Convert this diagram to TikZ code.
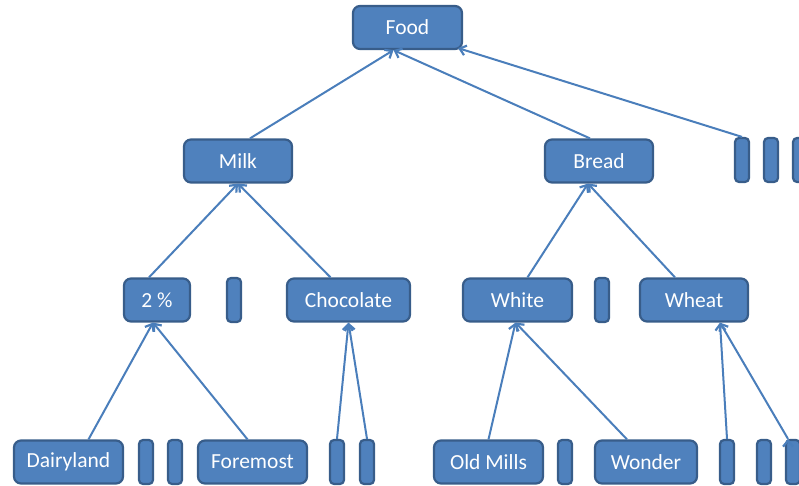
\documentclass[tikz,border=0pt]{standalone}
\usepackage{fontspec}
\setmainfont{Carlito}
\usetikzlibrary{arrows.meta}
\definecolor{cB}{RGB}{79,129,189}
\definecolor{cD}{RGB}{56,93,138}
\definecolor{cL}{RGB}{74,126,187}

\begin{document}
\begin{tikzpicture}[x=1pt, y=-1pt,
    box/.style={rectangle, rounded corners=7pt, fill=cB, draw=cD, line width=2.2pt, text=white,
                font=\fontsize{21.5}{24}\selectfont, inner sep=0pt, minimum width=109pt, minimum height=43pt},
    bar/.style={rectangle, rounded corners=4pt, fill=cB, draw=cD, line width=2.2pt,
                inner sep=0pt, minimum width=14pt, minimum height=44pt},
    link/.style={draw=cL, line width=2pt, -{Straight Barb[length=6pt, width=10pt, line width=2.2pt]}}]

    \clip (0,0) rectangle (799,486);

    % Node Placements
    \node[box] (Food) at (407.5,27.5) {Food};

    \node[box, minimum width=108pt] (Milk)  at (238,161) {Milk};
    \node[box, minimum width=108pt] (Bread) at (599,161) {Bread};
    \node[bar] (T1) at (742,160) {};
    \node[bar] (T2) at (771,160) {};
    \node[bar] (T3) at (800,160) {};

    \node[box, minimum width=66pt]  (Two)   at (157,300)   {2 \%};
    \node[bar] (M1) at (234,300) {};
    \node[box, minimum width=123pt] (Choc)  at (348.5,300) {Chocolate};
    \node[box]                      (White) at (517.5,300) {White};
    \node[bar] (B1) at (602,300) {};
    \node[box, minimum width=108pt] (Wheat) at (694,300)   {Wheat};

    \node[box] (Dairy) at (68.5,462)  {Dairyland};
    \node[bar] (D1) at (146,462) {};
    \node[bar] (D2) at (175,462) {};
    \node[box] (Fore)  at (252.5,462) {Foremost};
    \node[bar] (C1) at (337,462) {};
    \node[bar] (C2) at (367,462) {};
    \node[box] (Old)   at (488.5,462) {Old Mills};
    \node[bar] (O1) at (565,462) {};
    \node[box, minimum width=102pt] (Wonder) at (646,462) {Wonder};
    \node[bar] (W1) at (727,462) {};
    \node[bar] (W2) at (764,462) {};
    \node[bar] (W3) at (793,462) {};

    % Graph Path Operations
    \path[link]
    ([xshift=12pt]Milk.north)  edge ([xshift=-14pt]Food.south)
    ([xshift=-9pt]Bread.north) edge ([xshift=-14pt]Food.south)
    (T1.north)                 edge ([xshift=-5pt, yshift=2pt]Food.south east)

    ([xshift=-8pt]Two.north)   edge (Milk.south)
    ([xshift=-18pt]Choc.north) edge (Milk.south)
    ([xshift=10pt]White.north) edge ([xshift=-11pt]Bread.south)
    ([xshift=-19pt]Wheat.north) edge ([xshift=-11pt]Bread.south)

    ([xshift=20pt]Dairy.north) edge ([xshift=-4pt]Two.south)
    ([xshift=-5pt]Fore.north)  edge ([xshift=-4pt]Two.south)
    (C1.north)                 edge (Choc.south)
    (C2.north)                 edge (Choc.south)
    (Old.north)                edge ([xshift=-2pt]White.south)
    ([xshift=-19pt]Wonder.north) edge ([xshift=-2pt]White.south)
    (W1.north)                 edge ([xshift=26pt]Wheat.south)
    ([xshift=-5pt]W3.north)    edge ([xshift=26pt]Wheat.south);
\end{tikzpicture}
\end{document}
